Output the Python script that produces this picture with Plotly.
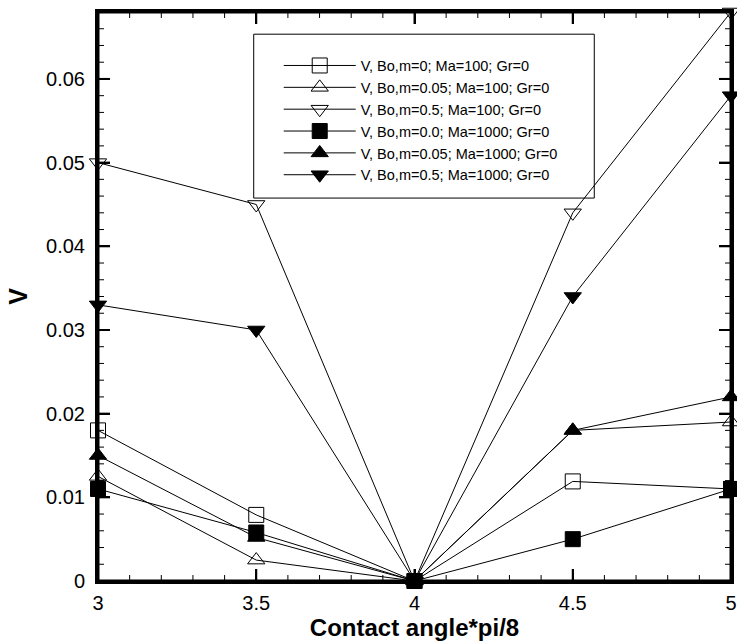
import plotly.graph_objects as go

x_vals = [3, 3.5, 4, 4.5, 5]
names = [
    "V, Bo,m=0; Ma=100; Gr=0",
    "V, Bo,m=0.05; Ma=100; Gr=0",
    "V, Bo,m=0.5; Ma=100; Gr=0",
    "V, Bo,m=0.0; Ma=1000; Gr=0",
    "V, Bo,m=0.05; Ma=1000; Gr=0",
    "V, Bo,m=0.5; Ma=1000; Gr=0",
]
v_bo0_ma100 = [0.018, 0.0079, 0.0, 0.0119, 0.011]
v_bo005_ma100 = [0.0125, 0.0025, 0.0, 0.018, 0.019]
v_bo05_ma100 = [0.050, 0.045, 0.0, 0.044, 0.068]
v_bo0_ma1000 = [0.011, 0.0058, 0.0, 0.005, 0.011]
v_bo005_ma1000 = [0.015, 0.0052, 0.0, 0.018, 0.022]
v_bo05_ma1000 = [0.033, 0.030, 0.0, 0.034, 0.058]
series = [v_bo0_ma100, v_bo005_ma100, v_bo05_ma100, v_bo0_ma1000, v_bo005_ma1000, v_bo05_ma1000]
symbols = ["square-open", "triangle-up-open", "triangle-down-open", "square", "triangle-up", "triangle-down"]

x_range = [3, 5]
y_range = [0, 0.068]
x_major_ticks = [3, 3.5, 4, 4.5, 5]
y_major_ticks = [0, 0.01, 0.02, 0.03, 0.04, 0.05, 0.06]
x_minor_ticks = [round(3 + 0.1 * i, 3) for i in range(21) if i % 5 != 0]
y_minor_ticks = [round(0.002 * i, 4) for i in range(35) if i % 5 != 0]

fig = go.Figure()
for name, ys, sym in zip(names, series, symbols):
    fig.add_trace(go.Scatter(
        x=x_vals, y=ys, name=name, mode="lines+markers",
        line=dict(color="black", width=1),
        marker=dict(symbol=sym, size=15, color="black", line=dict(color="black", width=1)),
        cliponaxis=False,
    ))

font_family = "Liberation Sans, Arial, Helvetica, sans-serif"
axis_common = dict(
    showline=True, linecolor="black", linewidth=3, mirror="allticks",
    ticks="inside", ticklen=12, tickwidth=2, tickcolor="black",
    showgrid=False, zeroline=False, automargin=False, tickmode="array",
    tickfont=dict(family=font_family, size=20, color="black"),
)

fig.update_layout(
    xaxis=dict(range=x_range, tickvals=x_major_ticks, ticktext=[f"{v:g}" for v in x_major_ticks],
               ticklabelstandoff=2,
               title=dict(text="<b>Contact angle*pi/8</b>", font=dict(family=font_family, size=24, color="black"), standoff=0),
               **axis_common),
    yaxis=dict(range=y_range, tickvals=y_major_ticks, ticktext=[f"{v:g}" for v in y_major_ticks],
               ticklabelstandoff=6,
               title=dict(text="<b>V</b>", font=dict(family=font_family, size=25, color="black"), standoff=12),
               **axis_common),
)

# plot frame (heavy border on all four sides)
fig.add_shape(type="rect", xref="paper", yref="paper", x0=0, x1=1, y0=0, y1=1,
              line=dict(color="black", width=3), fillcolor="rgba(0,0,0,0)", layer="above")

# inward tick marks on all four sides
def add_x_ticks(vals, length, width):
    for v in vals:
        for anchor, sign in ((0, 1), (1, -1)):
            fig.add_shape(type="line", xref="x", yref="paper", ysizemode="pixel", yanchor=anchor,
                          x0=v, x1=v, y0=0, y1=sign * length,
                          line=dict(color="black", width=width), layer="above")

def add_y_ticks(vals, length, width):
    for v in vals:
        for anchor, sign in ((0, 1), (1, -1)):
            fig.add_shape(type="line", xref="paper", yref="y", xsizemode="pixel", xanchor=anchor,
                          x0=0, x1=sign * length, y0=v, y1=v,
                          line=dict(color="black", width=width), layer="above")

add_x_ticks(x_major_ticks, 12, 2)
add_x_ticks(x_minor_ticks, 6, 1)
add_y_ticks(y_major_ticks, 12, 2)
add_y_ticks(y_minor_ticks, 6, 1)

# legend frame
fig.add_shape(type="rect", xref="paper", yref="paper", x0=0.246, x1=0.784, y0=0.673, y1=0.961,
              line=dict(color="black", width=1), fillcolor="rgba(0,0,0,0)", layer="above")

fig.update_layout(
    template="none",
    width=737, height=644,
    margin=dict(l=98, r=6, t=12, b=63, autoexpand=False),
    paper_bgcolor="white", plot_bgcolor="rgba(0,0,0,0)",
    legend=dict(x=0.2855, y=0.934, xanchor="left", yanchor="top", bgcolor="rgba(0,0,0,0)",
                borderwidth=0,
                font=dict(family=font_family, size=14.5, color="black"),
                itemwidth=72, tracegroupgap=0),
    showlegend=True,
)
fig.write_html("out.html", config=dict(displayModeBar=False),
               post_script="document.body.style.margin='0';document.body.style.overflow='hidden';")
